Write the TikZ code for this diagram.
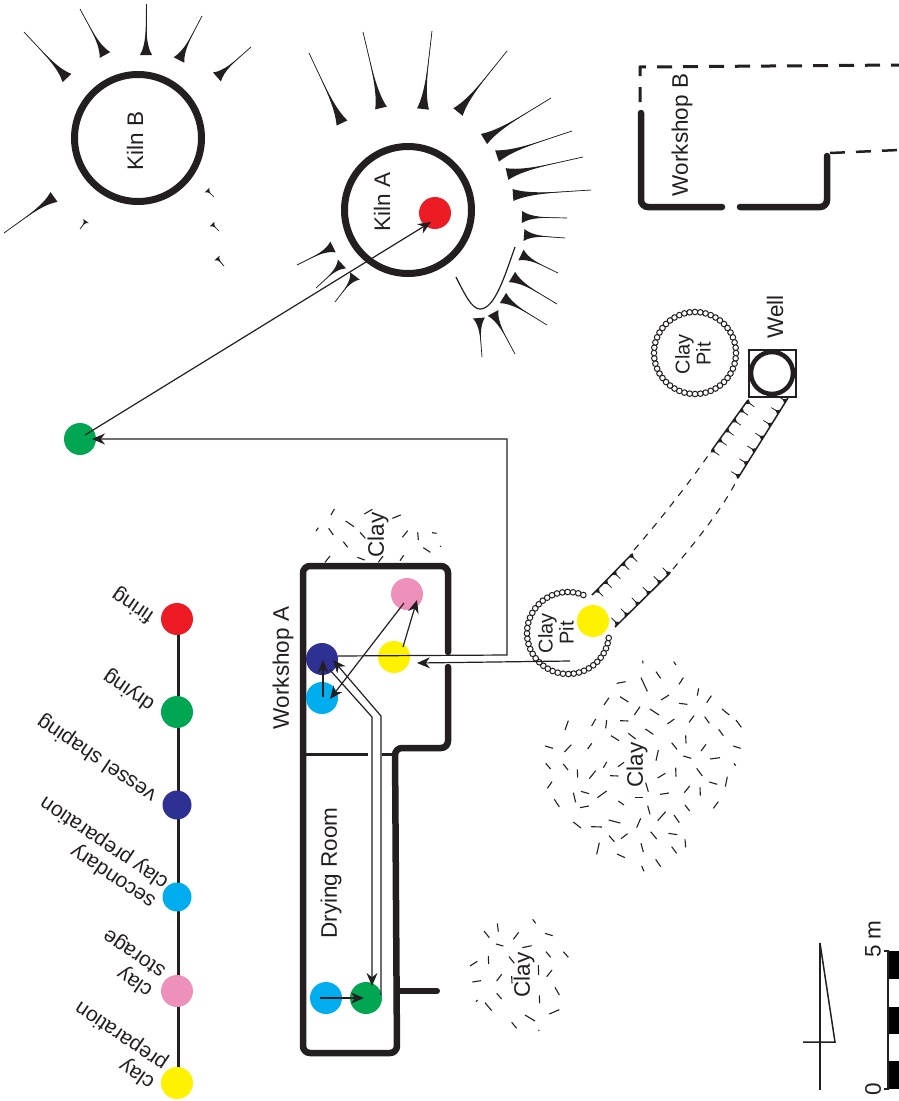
\documentclass[tikz,border=0pt]{standalone}
\usepackage{fontspec}
\setmainfont{Liberation Sans}
\usetikzlibrary{arrows.meta,calc}
\definecolor{ink}{HTML}{231F20}
\definecolor{cred}{HTML}{ED1C24}
\definecolor{cgreen}{HTML}{00A651}
\definecolor{cnavy}{HTML}{2E3192}
\definecolor{ccyan}{HTML}{00AEEF}
\definecolor{cpink}{HTML}{EE91BA}
\definecolor{cyel}{HTML}{FFF200}
\tikzset{
  dot/.style={circle,inner sep=0pt,minimum size=32pt,fill=#1},
  smalldot/.style={circle,inner sep=0pt,minimum size=29pt,fill=#1},
  lab/.style={inner sep=0pt,text=ink,font=\fontsize{22.5}{24}\selectfont,align=center},
  pitlab/.style={inner sep=0pt,text=ink,font=\fontsize{20}{21}\selectfont,align=center},
  leg/.style={inner sep=0pt,text=ink,font=\fontsize{21}{23}\selectfont,align=left,rotate=146},
  wall/.style={draw=ink,line width=6.5pt,rounded corners=7pt,line cap=round},
  kilnring/.style={draw=ink,line width=7pt},
  arr/.style={draw=ink,line width=1.2pt,-{Stealth[length=13pt,width=11pt]}},
  plain/.style={draw=ink,line width=1.2pt},
  claymark/.style={draw=ink,line width=1.1pt},
  bead/.style={draw=ink,line width=1pt,fill=white},
  dashwall/.style={draw=ink,line width=3pt,dash pattern=on 15pt off 11pt},
  trenchdash/.style={draw=ink,line width=1.1pt,dash pattern=on 7pt off 7pt},
  trenchsolid/.style={draw=ink,line width=1.5pt},
}
\newcommand\spike[3]{%
  \fill[ink] ($(#1)!#3!90:(#2)$) .. controls ($(#1)!0.2!(#2)$) and ($(#1)!0.5!(#2)$) .. (#2)
     .. controls ($(#1)!0.5!(#2)$) and ($(#1)!0.2!(#2)$) .. ($(#1)!#3!-90:(#2)$) -- cycle;
  \draw[ink,line width=.7pt] (#1) -- (#2);}
\newcommand\ticks[4]{% from, to, list, side angle
  \foreach \t in {#3} {
    \coordinate (tb) at ($(#1)!\t!(#2)$);
    \coordinate (tt) at ($(tb)!9pt!#4:(#2)$);
    \spike{tb}{tt}{3pt}
  }}
\begin{document}
\begin{tikzpicture}[x=1pt,y=-1pt]
\useasboundingbox (0,0) rectangle (899,1101);

% --- Kiln B
\node[circle,kilnring,minimum size=127pt,inner sep=0pt] (kilnB) at (138,138) {};
\node[lab,rotate=90] (kilnBt) at (135,141) {Kiln B};
\foreach \a/\b/\c/\d in {67/78/24/32,105/55/80/9,146/55/146/4,179/60/202/16,217/77/251/47,54/197/4/233}
  \spike{\a,\b}{\c,\d}{6pt};
\foreach \a/\b/\c/\d in {86/221/80/229,207/190/214/197,212/224/219/231,217/258/224/266}
  \spike{\a,\b}{\c,\d}{3.5pt};

% --- Kiln A
\node[circle,kilnring,minimum size=127pt,inner sep=0pt] (kilnA) at (408,210) {};
\node[lab,rotate=90] (kilnAt) at (382,202) {Kiln A};
\foreach \a/\b/\c/\d in {342/123/309/53,381/108/363/32,423/109/432/31,458/112/507/51,484/139/551/98,497/156/572/131,507/174/583/157,513/195/591/190,522/217/567/218,524/235/565/238,521/255/558/273,512/277/557/304,503/298/547/325,493/313/515/354,479/318/482/357,333/247/297/265,342/264/316/288,355/276/335/302}
  \spike{\a,\b}{\c,\d}{6pt};
\draw[plain] (456,277) .. controls (465,295) and (472,309) .. (480,309) .. controls (495,309) and (505,275) .. (515,247);
\node[dot=cred] (firing) at (435,213) {};

% --- Workshop B
\draw[wall] (641,113) -- (641,207) -- (722,207);
\draw[wall] (740,207) -- (827,207) -- (827,156);
\draw[dashwall] (640,102) -- (640,67) -- (899,65);
\draw[dashwall,line width=2.5pt] (830,153) -- (899,150);
\node[lab,rotate=90] (wsB) at (682,135) {Workshop B};

% --- Well and clay pits
\node[draw=ink,line width=2pt,minimum size=47pt,inner sep=0pt] (wellbox) at (772,373) {};
\node[circle,draw=ink,line width=4.5pt,minimum size=42pt,inner sep=0pt] (well) at (772,373) {};
\node[lab,rotate=90] (wellt) at (775,317) {Well};
\foreach \t in {0,7.5,...,352.5}
  \draw[bead] ({695+41*cos(\t)},{353+41*sin(\t)}) circle[radius=2.8pt];
\node[pitlab,rotate=90] (pit1t) at (693,354) {Clay\\Pit};
\foreach \t in {7,14.5,...,299}
  \draw[bead] ({568+41*cos(\t)},{633+41*sin(\t)}) circle[radius=2.8pt];
\node[pitlab,rotate=90] (pit2t) at (556,633) {Clay\\Pit};
\node[dot=cyel] (prep0) at (593,621) {};

% --- Trench
\coordinate (ua) at (592,595); \coordinate (ub) at (632,554);
\coordinate (uc) at (712,450); \coordinate (ud) at (748,400);
\coordinate (la) at (615,627); \coordinate (lb) at (670,573);
\coordinate (lc) at (738,478); \coordinate (ld) at (788,398);
\draw[trenchsolid] (ua) -- (ub);
\draw[trenchsolid] (uc) -- (ud);
\draw[trenchsolid] (la) -- (lb);
\draw[trenchsolid] (lc) -- (ld);
\draw[trenchdash] (ub) ++(2,-4) .. controls (660,520) and (690,482) .. (uc);
\draw[trenchdash] (lb) ++(3,-4) .. controls (695,542) and (722,510) .. (lc);
\ticks{ua}{ub}{0.12,0.33,0.55,0.77,0.97}{-90}
\ticks{uc}{ud}{0,0.2,0.4,0.6,0.8,0.97}{-90}
\ticks{la}{lb}{0.05,0.22,0.42,0.62,0.82,0.98}{90}
\ticks{lc}{ld}{0.02,0.18,0.34,0.5,0.66,0.82,0.96}{90}

% --- Workshop A and drying room
\draw[wall] (448,652) -- (448,566) -- (303,566) -- (303,1053) -- (397,1053) -- (395,748) -- (448,748) -- (448,667);
\draw[draw=ink,line width=6pt,line cap=round] (397,991) -- (437,991);
\draw[draw=ink,line width=3pt] (303,754) -- (368,754);
\draw[draw=ink,line width=3pt] (382,754) -- (395,754);
\node[lab,rotate=90] (wsAt) at (283,668) {Workshop A};
\node[lab,rotate=90] (dryt) at (331,873) {Drying Room};

% --- Clay patches
\node[lab,rotate=90] (clay1) at (378,535) {Clay};
\node[lab,rotate=90] (clay2) at (637,765) {Clay};
\node[lab,rotate=90] (clay3) at (524,975) {Clay};
\foreach \a/\b/\c/\d in {153/45/163/27,253/42/277/28,337/55/362/45,197/63/222/80,108/93/115/83,146/85/160/105,240/97/256/115,367/112/383/92,413/97/415/120,456/98/470/100,190/125/203/142,430/143/451/157,480/138/483/140,232/172/254/180,135/187/150/168,295/187/309/168,360/182/371/166}
  \draw[claymark] ({280+\a/3},{500+\b/3}) -- ({280+\c/3},{500+\d/3});
\foreach \a/\b/\c/\d in {338/32/339/40,431/35/438/45,378/65/392/85,260/100/287/95,333/83/352/124,447/103/460/83,502/137/506/115,530/158/544/137,270/140/295/156,393/150/417/135,222/165/237/143,447/160/472/163,313/195/330/170,360/177/387/195,576/177/598/195,185/228/197/207,105/240/115/212,227/235/230/210,270/212/295/213,412/222/433/207,477/217/492/197,524/200/538/220,618/210/634/232,243/257/267/272,295/250/317/267,346/237/370/253,566/238/580/257,467/256/468/280,425/278/441/298,45/288/69/295,103/306/124/284,173/297/185/280,513/303/528/283,610/288/632/295,378/332/385/300,460/318/484/325,540/327/570/323,47/340/62/357,100/342/114/360,220/353/230/336,264/350/282/337,612/340/617/347,142/358/143/383,178/386/197/362,240/377/265/378,383/384/406/370,437/353/438/380,500/355/517/378,586/410/592/380,538/396/562/403,52/415/66/395,130/428/137/457,153/424/177/431,202/443/230/423,347/398/355/425,390/433/417/429,463/428/479/408,510/412/511/437,73/448/88/471,150/473/177/468,265/453/282/465,315/443/340/443,465/465/479/483,550/475/565/455,353/467/360/493,383/512/407/485,432/495/448/518,130/516/153/534,183/530/216/531,236/510/271/519,320/533/332/505,237/557/253/575,273/566/293/551,362/545/380/567,415/550/442/554,465/568/467/592,200/613/208/578,333/580/340/606,425/590/440/610,261/612/285/623,335/648/342/664,377/628/392/650}
  \draw[claymark] ({530+\a/3},{650+\b/3}) -- ({530+\c/3},{650+\d/3});
\foreach \a/\b/\c/\d in {728/58/737/70,622/70/625/95,582/93/598/113,670/118/686/97,765/100/788/107,618/132/640/138,697/143/725/137,768/155/782/172,820/155/835/172,540/198/562/184,595/168/596/192,657/170/673/190,745/195/746/225,770/230/786/210,620/243/635/223,665/228/666/250,547/246/573/242,795/262/808/285,620/280/635/297,558/305/563/300,748/286/749/310,585/308/605/332,778/342/808/329,705/345/735/363,665/367/680/385,745/390/748/392}
  \draw[claymark] ({290+\a/3},{900+\b/3}) -- ({290+\c/3},{900+\d/3});

% --- Process dots on the plan
\node[dot=cyel] (yel) at (394,657) {};
\node[dot=cpink] (pink) at (407,594) {};
\node[dot=cnavy] (navy) at (322,659) {};
\node[dot=ccyan] (cyan) at (322,698) {};
\node[dot=ccyan] (cyan2) at (326,998) {};
\node[dot=cgreen] (green2) at (366,998) {};
\node[dot=cgreen] (green1) at (80,439) {};

% --- Connector ends
\coordinate (yelT) at (403,647); \coordinate (pinkH) at (417,600);
\coordinate (pinkS) at (404,603); \coordinate (cyanH) at (330,699);
\coordinate (cyanS) at (323,697); \coordinate (navyH) at (323,660);
\coordinate (pitS) at (570,661); \coordinate (yelH) at (417,663);
\coordinate (navyS) at (338,656); \coordinate (bendA) at (507,655);
\coordinate (bendB) at (507,439); \coordinate (greenH) at (92,439);
\coordinate (greenS) at (85,435); \coordinate (redH) at (431,222);
\coordinate (navyL) at (330,670); \coordinate (lk) at (372,717);
\coordinate (greenT) at (372,986);
\coordinate (greenR) at (381,995); \coordinate (rk) at (381,716);
\coordinate (navyT) at (333,660);
\coordinate (cyan2S) at (320,998); \coordinate (green2H) at (364,998);

\draw[arr] (yelT) -- (pinkH);
\draw[arr] (pinkS) -- (cyanH);
\draw[arr] (cyanS) -- (navyH);
\draw[arr] (pitS) -- (yelH);
\draw[arr] (navyS) -- (bendA) -- (bendB) -- (greenH);
\draw[arr] (greenS) -- (redH);
\draw[arr] (navyL) -- (lk) -- (greenT);
\draw[arr] (greenR) -- (rk) -- (navyT);
\draw[arr] (cyan2S) -- (green2H);

% --- Legend
\draw[draw=ink,line width=3pt] (178,619) -- (178,1083);
\node[dot=cred] (l1) at (177,619) {};
\node[dot=cgreen] (l2) at (177,712) {};
\node[smalldot=cnavy] (l3) at (177,805) {};
\node[smalldot=ccyan] (l4) at (177,897) {};
\node[dot=cpink] (l5) at (177,991) {};
\node[dot=cyel] (l6) at (177,1083) {};
\node[leg] (t1) at (133,605) {firing};
\node[leg] (t2) at (129,690) {drying};
\node[leg] (t3) at (97,758) {vessel shaping};
\node[leg] (t4) at (98,852) {secondary\\clay preparation};
\node[leg] (t5) at (128,963) {clay\\storage};
\node[leg] (t6) at (115,1045) {clay\\preparation};

% --- North arrow and scale
\draw[draw=ink,line width=1.5pt] (820,943) -- (820,1090);
\draw[draw=ink,line width=1.5pt] (820,943) -- (835,1042) -- (803,1042);
\fill[black] (888,951) rectangle (899,979);
\fill[black] (888,1007) rectangle (899,1034);
\fill[black] (888,1061) rectangle (899,1089);
\draw[draw=ink,line width=1.2pt] (884,951) -- (888,951) -- (888,1089) -- (884,1089);
\node[lab,rotate=90,anchor=west] (five) at (873,958) {5 m};
\node[lab,rotate=90] (zero) at (873,1089) {0};
\end{tikzpicture}
\end{document}
